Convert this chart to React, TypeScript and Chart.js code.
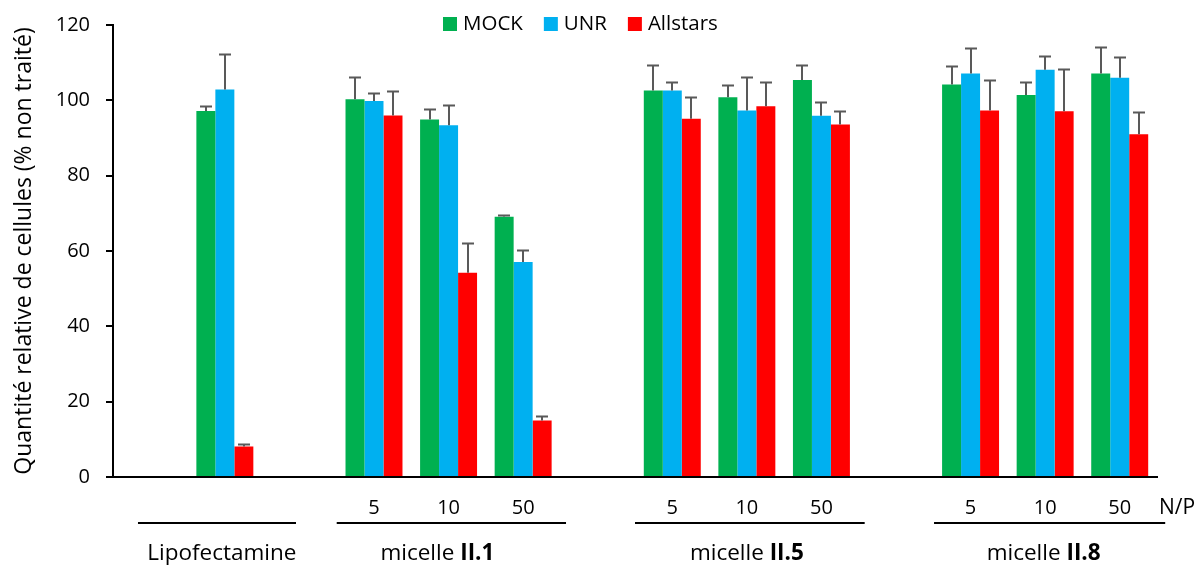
import React, { useEffect, useRef } from "react";
import { Chart, registerables } from "chart.js";

Chart.register(...registerables);

// ---- data ----
const categories = ["", "Lipofectamine", "", "5", "10", "50", "", "5", "10", "50", "", "5", "10", "50"];
const tickTexts = ["", "", "", "5", "10", "50", "", "5", "10", "50", "", "5", "10", "50"];

const seriesNames = ["MOCK", "UNR", "Allstars"];
const seriesColors = ["#00B050", "#00B0F0", "#FF0000"];

const mock = [null, 97.2, null, 100.3, 94.9, 69.1, null, 102.6, 100.8, 105.4, null, 104.2, 101.4, 107.1];
const mockErr = [null, 1.3, null, 5.8, 2.8, 0.4, null, 6.8, 3.2, 4.0, null, 5.0, 3.5, 7.0];
const unr = [null, 102.9, null, 99.8, 93.4, 57.1, null, 102.6, 97.3, 95.9, null, 107.1, 108.1, 106.0];
const unrErr = [null, 9.3, null, 2.1, 5.4, 3.2, null, 2.3, 8.8, 3.7, null, 6.9, 3.7, 5.5];
const allstars = [null, 8.1, null, 96.0, 54.2, 15.0, null, 95.1, 98.4, 93.6, null, 97.3, 97.1, 91.0];
const allstarsErr = [null, 0.6, null, 6.6, 8.0, 1.2, null, 5.8, 6.5, 3.7, null, 8.1, 11.2, 6.0];

const groupNormal = ["Lipofectamine", "micelle ", "micelle ", "micelle "];
const groupBold = ["", "II.1", "II.5", "II.8"];

const yTitle = "Quantité relative de cellules (% non traité)";
const npLabel = "N/P";

// ---- layout (category-index units, not data) ----
const groupLineSpans = [[-0.165, 1.954], [2.5, 5.575], [6.5, 9.58], [10.51, 13.61]];
const groupLabelAt = [0.96, 3.85, 8.0, 11.98];

const FONT = "'Open Sans', sans-serif";
const errors = [mockErr, unrErr, allstarsErr];

const errorBarPlugin = {
  id: "errorBars",
  afterDatasetsDraw(chart: any) {
    const ctx = chart.ctx;
    const y = chart.scales.y;
    ctx.save();
    ctx.strokeStyle = "#595959";
    ctx.lineWidth = 2;
    chart.data.datasets.forEach((ds: any, i: number) => {
      const meta = chart.getDatasetMeta(i);
      meta.data.forEach((el: any, j: number) => {
        const v = ds.data[j];
        const e = errors[i][j];
        if (v == null || e == null) return;
        const yTop = Math.round(y.getPixelForValue(v + e)) + 0.5;
        const yb = y.getPixelForValue(v);
        const x = Math.round(el.x);
        ctx.beginPath();
        ctx.moveTo(x, yb);
        ctx.lineTo(x, yTop);
        ctx.moveTo(x - 6, yTop);
        ctx.lineTo(x + 6, yTop);
        ctx.stroke();
      });
    });
    ctx.restore();
  },
};

const annotationsPlugin = {
  id: "annotations",
  afterDraw(chart: any) {
    const ctx = chart.ctx;
    const xs = chart.scales.x;
    const area = chart.chartArea;
    ctx.save();
    ctx.fillStyle = "#000";
    ctx.textBaseline = "middle";
    ctx.font = `20px ${FONT}`;
    // N/P numbers
    ctx.textAlign = "center";
    tickTexts.forEach((t, i) => {
      if (!t) return;
      ctx.fillText(t, xs.getPixelForValue(i), 508);
    });
    ctx.textAlign = "left";
    ctx.font = `21px ${FONT}`;
    ctx.fillText(npLabel, area.right + 2, 508);
    // group lines
    ctx.strokeStyle = "#000";
    ctx.lineWidth = 2;
    groupLineSpans.forEach(([a, b]) => {
      ctx.beginPath();
      ctx.moveTo(xs.getPixelForValue(a), 523);
      ctx.lineTo(xs.getPixelForValue(b), 523);
      ctx.stroke();
    });
    // group labels
    const gs = 22.5;
    groupNormal.forEach((n, i) => {
      ctx.font = `${gs}px ${FONT}`;
      const w1 = ctx.measureText(n).width;
      ctx.font = `bold ${gs}px ${FONT}`;
      const w2 = groupBold[i] ? ctx.measureText(groupBold[i]).width : 0;
      const cx = xs.getPixelForValue(groupLabelAt[i]);
      const start = cx - (w1 + w2) / 2;
      ctx.textAlign = "left";
      ctx.font = `${gs}px ${FONT}`;
      ctx.fillText(n, start, 554);
      if (groupBold[i]) {
        ctx.font = `bold ${gs}px ${FONT}`;
        ctx.fillText(groupBold[i], start + w1, 554);
      }
    });
    // legend
    ctx.font = `20.5px ${FONT}`;
    let lx = 443;
    seriesNames.forEach((name, i) => {
      ctx.fillStyle = seriesColors[i];
      ctx.fillRect(lx, 17, 14, 14);
      ctx.fillStyle = "#000";
      ctx.textAlign = "left";
      ctx.fillText(name, lx + 20, 24);
      lx += 20 + ctx.measureText(name).width + 21;
    });
    ctx.restore();
  },
};

export default function App() {
  const ref = useRef<HTMLCanvasElement | null>(null);
  useEffect(() => {
    if (!ref.current) return;
    Chart.defaults.font.family = FONT;
    const chart = new Chart(ref.current, {
      type: "bar",
      data: {
        labels: categories,
        datasets: [
          { label: seriesNames[0], data: mock, backgroundColor: seriesColors[0] },
          { label: seriesNames[1], data: unr, backgroundColor: seriesColors[1] },
          { label: seriesNames[2], data: allstars, backgroundColor: seriesColors[2] },
        ] as any,
      },
      options: {
        responsive: false,
        animation: false,
        layout: { padding: { top: 25, right: 40, bottom: 91, left: 0 } },
        datasets: { bar: { categoryPercentage: 0.764, barPercentage: 1, borderWidth: 0 } },
        plugins: { legend: { display: false }, tooltip: { enabled: false } },
        scales: {
          x: {
            grid: { display: false },
            ticks: { display: false },
            border: { display: true, color: "#000", width: 2 },
            afterFit: (s: any) => { s.height = 0; s.paddingLeft = 0; s.paddingRight = 0; },
          },
          y: {
            min: 0,
            max: 120,
            ticks: { stepSize: 20, padding: 16, color: "#000", font: { size: 20, family: FONT } },
            grid: { display: true, drawOnChartArea: false, drawTicks: true, tickLength: 7, color: "#000", lineWidth: 2 },
            border: { display: true, color: "#000", width: 2 },
            title: { display: true, text: yTitle, color: "#000", font: { size: 23, family: FONT }, padding: { top: 11, bottom: 0 } },
            afterFit: (s: any) => { s.width = 113; s.paddingTop = 0; s.paddingBottom = 0; },
          },
        },
      } as any,
      plugins: [errorBarPlugin, annotationsPlugin],
    });
    return () => chart.destroy();
  }, []);
  return (
    <div style={{ position: "fixed", left: 0, top: 0, width: 1197, height: 568, background: "#fff" }}>
      <canvas ref={ref} width={1197} height={568} style={{ display: "block" }} />
    </div>
  );
}
